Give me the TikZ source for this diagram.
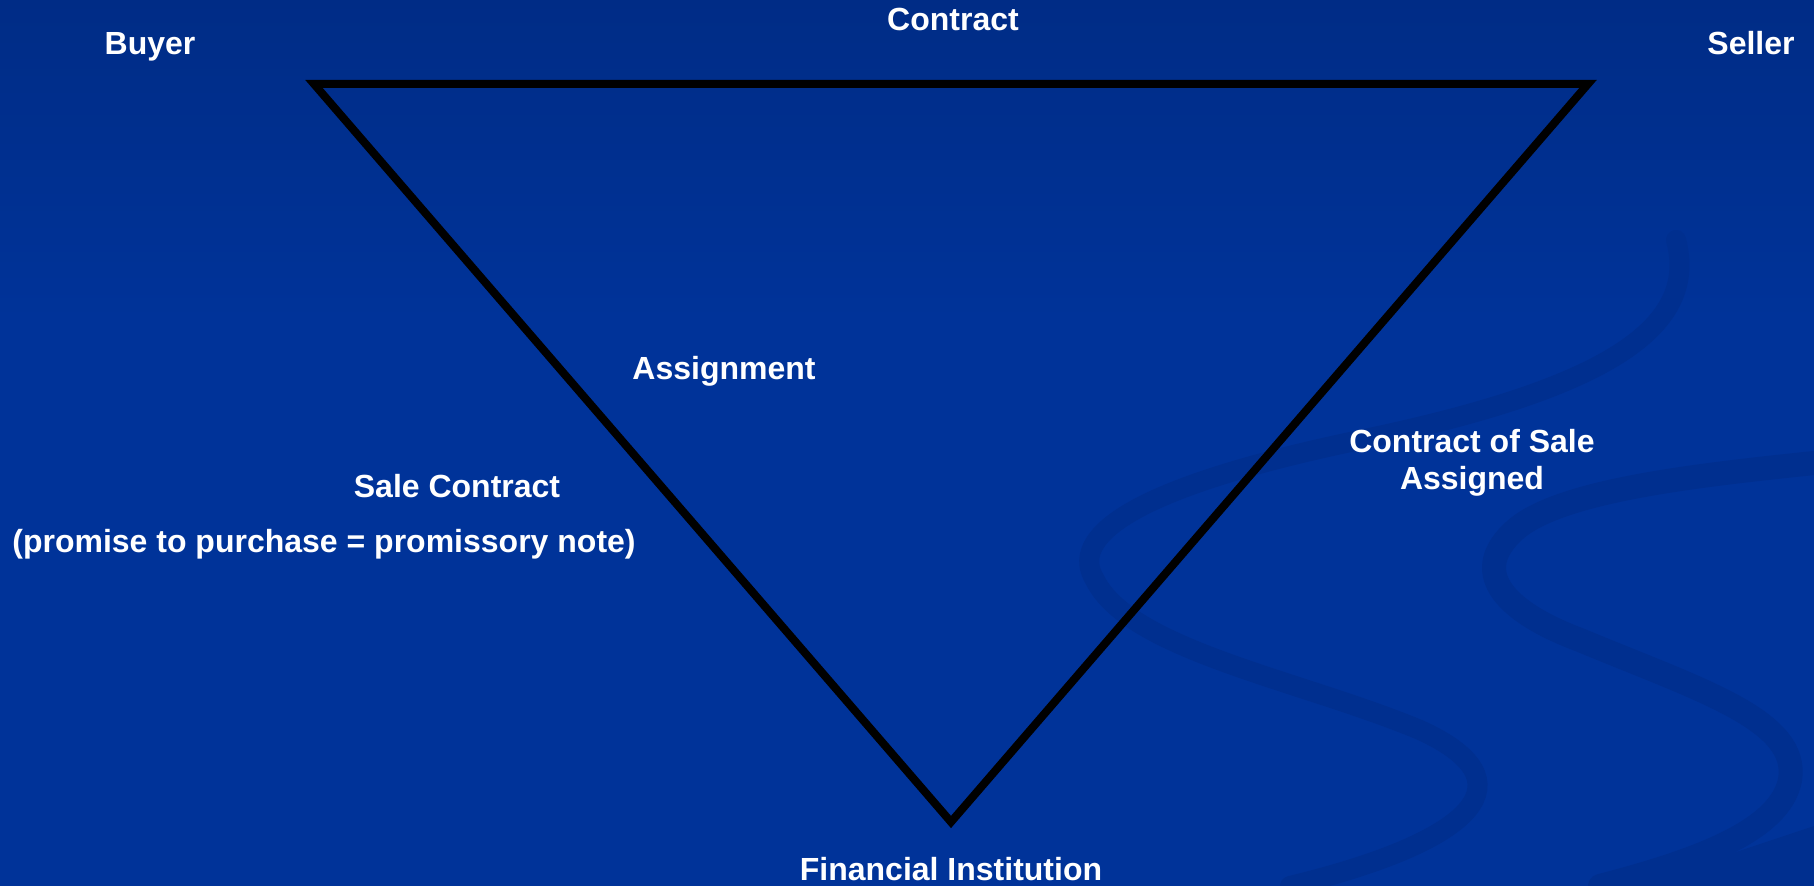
\documentclass[tikz,border=0pt]{standalone}
\usepackage{fontspec}
\setmainfont{Liberation Sans}
\begin{document}
\begin{tikzpicture}[x=0.5pt,y=-0.5pt,
  lbl/.style={text=white,font=\bfseries\fontsize{16}{18.5}\selectfont,anchor=base,inner sep=0pt,align=center},
  swirl/.style={draw=swirlc,line cap=round},
  edge/.style={draw=black,line width=4pt,line join=miter}]
\definecolor{bgtop}{HTML}{002C86}
\definecolor{bgmid}{HTML}{003399}
\definecolor{swirlc}{HTML}{002F8F}
\useasboundingbox (0,0) rectangle (1814,886);
% background
\fill[bgmid] (0,0) rectangle (1814,886);
\shade[top color=bgtop,bottom color=bgmid] (0,0) rectangle (1814,320);
% decorative swirls
\draw[swirl,line width=10pt] (1676,240) .. controls (1700,330) and (1600,390) .. (1360,440)
  .. controls (1120,490) and (1070,540) .. (1095,580)
  .. controls (1130,650) and (1300,680) .. (1420,730)
  .. controls (1530,780) and (1480,840) .. (1290,886);
\draw[swirl,line width=12pt] (1814,463) .. controls (1700,475) and (1560,490) .. (1515,530)
  .. controls (1470,570) and (1500,610) .. (1580,640)
  .. controls (1700,690) and (1800,720) .. (1790,780)
  .. controls (1780,830) and (1700,860) .. (1600,886);
\fill[swirlc] (1634,886) -- (1814,826) -- (1814,886) -- cycle;
% triangle
\coordinate (tl) at (314,84);
\coordinate (tr) at (1588,84);
\coordinate (bt) at (951,822);
\draw[edge] (tl) -- (tr) -- (bt) -- cycle;
% labels
\node[lbl] (buyer) at (150,55) {Buyer};
\node[lbl] (seller) at (1751,55) {Seller};
\node[lbl] (contract) at (953,31) {Contract};
\node[lbl] (assign) at (724,380) {Assignment};
\node[lbl] (cosa) at (1472,490) {Contract of Sale\\Assigned};
\node[lbl] (sale) at (457,498) {Sale Contract};
\node[lbl] (promise) at (324,553) {(promise to purchase = promissory note)};
\node[lbl] (fin) at (951,880) {Financial Institution};
\end{tikzpicture}
\end{document}
